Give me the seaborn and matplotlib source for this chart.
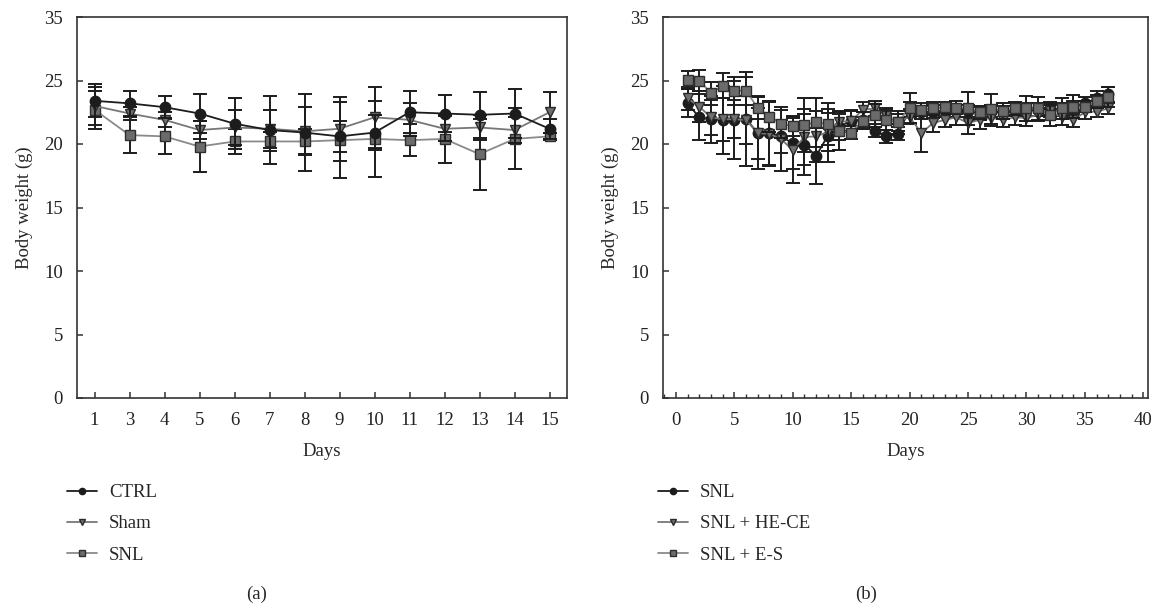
"""Body weight over time: panel (a) CTRL/Sham/SNL, panel (b) SNL treatments."""

import matplotlib
matplotlib.use("Agg")
import matplotlib.pyplot as plt
import numpy as np
import pandas as pd
import seaborn as sns
from matplotlib.lines import Line2D
from matplotlib.ticker import MultipleLocator

# ── panel (a) ──
days_a = [1, 3, 4, 5, 6, 7, 8, 9, 10, 11, 12, 13, 14, 15]
ctrl_mean = [23.4, 23.2, 22.9, 22.4, 21.6, 21.1, 20.9, 20.6, 20.9, 22.5, 22.4, 22.3, 22.4, 21.2]
ctrl_sd = [1.3, 1.0, 0.85, 1.5, 2.0, 2.7, 3.0, 1.2, 1.4, 1.65, 1.45, 1.8, 1.9, 0.8]
sham_mean = [23.0, 22.4, 21.9, 21.1, 21.3, 21.2, 21.0, 21.2, 22.1, 21.9, 21.2, 21.3, 21.1, 22.5]
sham_sd = [1.5, 0.5, 0.6, 0.7, 1.4, 1.5, 1.9, 2.5, 2.4, 1.3, 1.0, 1.0, 1.0, 1.6]
snl_a_mean = [22.7, 20.7, 20.6, 19.8, 20.2, 20.2, 20.2, 20.3, 20.4, 20.3, 20.4, 19.2, 20.4, 20.6]
snl_a_sd = [1.5, 1.4, 1.35, 2.0, 1.0, 0.75, 1.0, 3.0, 3.0, 1.25, 1.9, 2.8, 2.4, 0.3]

# ── panel (b) ──
days_b = list(range(1, 38))
snl_b_mean = [23.2, 22.1, 21.95, 21.9, 21.9, 22.0, 20.85, 20.85, 20.6, 20.05, 19.95, 19.05,
              20.65, 21.35, 21.85, 21.9, 21.05, 20.6, 20.8, 22.7, 22.5, 22.55, 22.6, 22.6,
              22.6, 22.4, 22.6, 22.5, 22.7, 22.7, 22.7, 22.8, 22.7, 22.9, 23.2, 23.6, 23.9]
snl_b_sd = [1.1, 1.8, 1.85, 2.7, 3.1, 3.7, 2.0, 2.5, 1.3, 2.0, 2.4, 2.2, 2.1, 1.0, 0.8,
            0.6, 0.5, 0.5, 0.5, 0.6, 0.5, 0.5, 0.5, 0.5, 0.5, 0.5, 0.5, 0.5, 0.5, 0.5,
            0.5, 0.5, 0.5, 0.5, 0.5, 0.6, 0.6]
hece_mean = [23.6, 22.95, 22.1, 21.95, 21.95, 21.9, 20.85, 20.8, 20.4, 19.5, 20.55, 20.6,
             20.95, 21.75, 21.8, 22.7, 22.8, 22.2, 21.7, 22.15, 20.85, 21.65, 21.9, 22.1,
             21.65, 21.9, 22.05, 21.9, 22.1, 22.05, 22.3, 22.6, 22.1, 21.9, 22.5, 22.55, 22.8]
hece_sd = [0.9, 1.2, 1.4, 1.7, 1.5, 1.9, 2.85, 2.5, 2.5, 2.6, 2.2, 2.0, 1.5, 0.8, 0.8,
           0.6, 0.6, 0.6, 0.9, 0.6, 1.5, 0.7, 0.6, 0.6, 0.9, 0.7, 0.6, 0.6, 0.6, 0.6,
           0.5, 0.5, 0.6, 0.6, 0.5, 0.4, 0.4]
es_mean = [25.05, 25.0, 24.0, 24.6, 24.2, 24.2, 22.85, 22.15, 21.6, 21.4, 21.5, 21.7,
           21.6, 21.05, 20.9, 21.85, 22.25, 21.9, 21.7, 22.85, 22.7, 22.8, 22.9, 22.85,
           22.8, 22.5, 22.75, 22.6, 22.8, 22.8, 22.8, 22.3, 22.8, 22.95, 22.95, 23.35, 23.7]
es_sd = [0.7, 0.85, 0.9, 1.0, 1.1, 1.1, 0.9, 1.2, 1.1, 0.8, 2.1, 1.9, 1.65, 1.55, 0.5,
         0.7, 0.9, 0.8, 0.7, 1.2, 0.5, 0.5, 0.4, 0.5, 1.3, 0.5, 1.15, 0.6, 0.5, 1.0,
         0.9, 0.9, 0.8, 0.9, 0.4, 0.5, 0.8]

ytick_labels = ["0", "5", "10", "15", "20", "25", "35"]

# marker / colour per group: (marker, face, edge, line colour, markersize)
STYLE_CIRCLE = ("o", "#1c1c1c", "#1c1c1c", "#1c1c1c", 7.5)
STYLE_TRI = ("v", "#6f6f6f", "#2a2a2a", "#777777", 7.5)
STYLE_SQUARE = ("s", "#6b6b6b", "#2e2e2e", "#8a8a8a", 6.8)

sns.set_style("ticks")
plt.rcParams["font.family"] = ["Liberation Serif", "DejaVu Serif"]
plt.rcParams["font.size"] = 13.5


def draw_series(ax, x, mean, sd, label, style, z):
    marker, face, edge, lc, ms = style
    df = pd.DataFrame({"x": x, "y": mean})
    ax.errorbar(df["x"], df["y"], yerr=sd, fmt="none", ecolor="#1c1c1c",
                elinewidth=1.4, capsize=5, capthick=1.4, zorder=z - 0.5)
    sns.lineplot(data=df, x="x", y="y", ax=ax, color=lc, linewidth=1.3,
                 marker=marker, markersize=ms, markerfacecolor=face,
                 markeredgecolor=edge, markeredgewidth=1.0, zorder=z,
                 label=label, legend=False)


def style_axis(ax):
    ax.set_ylim(0, 30)
    ax.set_yticks(range(0, 31, 5))
    ax.set_yticklabels(ytick_labels)
    ax.set_ylabel("Body weight (g)", labelpad=8)
    ax.set_xlabel("Days", labelpad=10)
    for sp in ax.spines.values():
        sp.set_visible(True)
        sp.set_color("#333333")
        sp.set_linewidth(1.2)
    ax.tick_params(direction="in", length=4, width=1.1, colors="#333333",
                   labelcolor="#222222", pad=10, labelsize=13.5)
    ax.tick_params(which="minor", direction="in", length=3, width=1.0, colors="#333333")


fig = plt.figure(figsize=(11.67, 6.07), dpi=100)
W, H = 1167, 607
ax_a = fig.add_axes([77 / W, 1 - 398 / H, (567 - 77) / W, (398 - 17) / H])
ax_b = fig.add_axes([663 / W, 1 - 398 / H, (1148 - 663) / W, (398 - 17) / H])

# (a) categorical days -> positions 0..n-1
pos_a = np.arange(len(days_a))
draw_series(ax_a, pos_a, snl_a_mean, snl_a_sd, "SNL", STYLE_SQUARE, 3)
draw_series(ax_a, pos_a, sham_mean, sham_sd, "Sham", STYLE_TRI, 4)
draw_series(ax_a, pos_a, ctrl_mean, ctrl_sd, "CTRL", STYLE_CIRCLE, 5)
ax_a.set_xlim(-0.5, len(days_a) - 0.5)
ax_a.set_xticks(pos_a)
ax_a.set_xticklabels([str(d) for d in days_a])
style_axis(ax_a)

# (b)
draw_series(ax_b, days_b, snl_b_mean, snl_b_sd, "SNL", STYLE_CIRCLE, 3)
draw_series(ax_b, days_b, hece_mean, hece_sd, "SNL + HE-CE", STYLE_TRI, 4)
draw_series(ax_b, days_b, es_mean, es_sd, "SNL + E-S", STYLE_SQUARE, 5)
ax_b.set_xlim(-1.1, 40.4)
ax_b.xaxis.set_major_locator(MultipleLocator(5))
ax_b.xaxis.set_minor_locator(MultipleLocator(1))
style_axis(ax_b)


def legend_handles(styles, labels):
    hs = []
    for (marker, face, edge, lc, ms), lab in zip(styles, labels):
        hs.append(Line2D([], [], color=lc, lw=1.3, marker=marker, markersize=4.5,
                         markerfacecolor=face, markeredgecolor=edge, label=lab))
    return hs


leg_kw = dict(loc="upper left", frameon=False, borderpad=0, borderaxespad=0,
              handlelength=1.6, handletextpad=0.65, labelspacing=0.75, fontsize=13.5)
fig.legend(handles=legend_handles([STYLE_CIRCLE, STYLE_TRI, STYLE_SQUARE],
                                  ["CTRL", "Sham", "SNL"]),
           bbox_to_anchor=(67 / W, 1 - 484 / H), **leg_kw)
fig.legend(handles=legend_handles([STYLE_CIRCLE, STYLE_TRI, STYLE_SQUARE],
                                  ["SNL", "SNL + HE-CE", "SNL + E-S"]),
           bbox_to_anchor=(658 / W, 1 - 484 / H), **leg_kw)

fig.text(257 / W, 1 - 594 / H, "(a)", ha="center", va="center", fontsize=13.5)
fig.text(866 / W, 1 - 594 / H, "(b)", ha="center", va="center", fontsize=13.5)

fig.savefig("out.png", dpi=100)
plt.close(fig)
